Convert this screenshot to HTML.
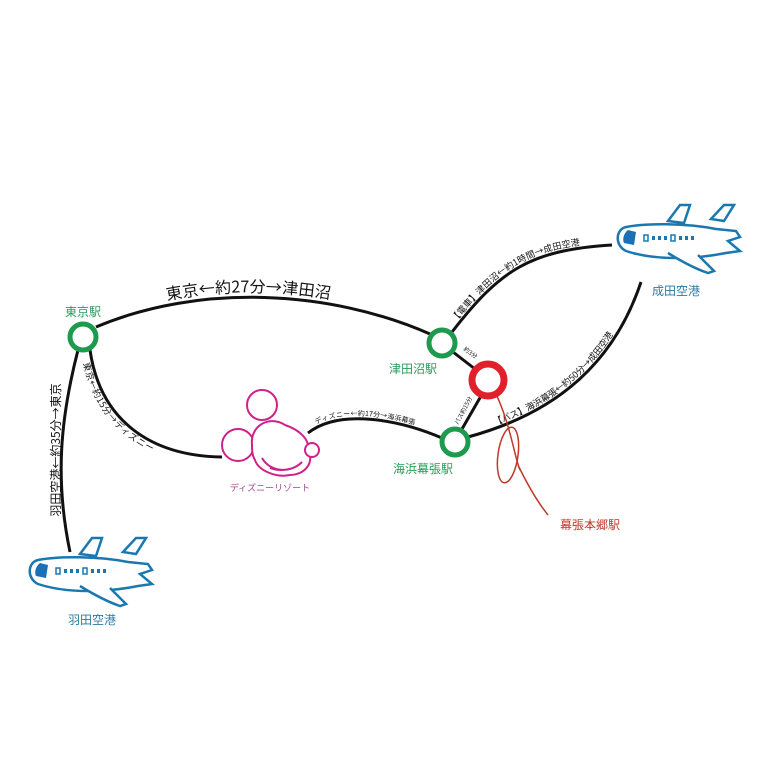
<!DOCTYPE html>
<html><head><meta charset="utf-8"><style>
html,body{margin:0;padding:0;background:#fff;}
svg{display:block;font-family:"Noto Sans CJK JP","Liberation Sans",sans-serif;}
</style></head><body>
<svg width="768" height="768" viewBox="0 0 768 768" xmlns="http://www.w3.org/2000/svg">
<defs>
<g id="plane">
 <path d="M95,-8 L108,-22 L118,-22 L108,-6 Z M52,-6 L64,-22 L74,-22 L68,-4 Z" fill="#fff" stroke="#1a78b0" stroke-width="2.5"/>
 <path d="M10,0 C0,2 -2,18 10,24 C40,34 80,32 110,26 L124,24 L112,14 L124,10 L120,4 L100,2 C70,-4 30,-4 10,0 Z" fill="#fff" stroke="#1a78b0" stroke-width="2.5"/>
 <path d="M12,3 C8,6 6,12 8,16 L18,18 L20,5 Z" fill="#1a6fb5"/>
 <path d="M52,26 C65,34 80,42 92,46 L98,44 L82,28" fill="#fff" stroke="#1a78b0" stroke-width="2.5"/>
 <rect x="28" y="8" width="4" height="6" fill="none" stroke="#1a78b0" stroke-width="1.5"/>
 <rect x="36" y="9" width="3" height="4" fill="#1a78b0"/><rect x="42" y="9" width="3" height="4" fill="#1a78b0"/><rect x="48" y="9" width="3" height="4" fill="#1a78b0"/>
 <rect x="55" y="8" width="4" height="6" fill="none" stroke="#1a78b0" stroke-width="1.5"/>
 <rect x="63" y="9" width="3" height="4" fill="#1a78b0"/><rect x="69" y="9" width="3" height="4" fill="#1a78b0"/><rect x="75" y="9" width="3" height="4" fill="#1a78b0"/>
</g>
</defs>
<g fill="none" stroke="#111" stroke-width="3">
 <path id="p1" d="M96,327 C200,283 330,290 430,334"/>
 <path d="M78,350 C60,420 55,480 70,552"/>
 <path id="p3" d="M90,350 C100,420 150,456 222,457"/>
 <path id="p4" d="M308,433 C340,408 400,420 442,438"/>
 <path id="p5" d="M452,332 C500,270 530,250 612,245"/>
 <path d="M453,352 L475,369"/>
 <path d="M481,396 L462,429"/>
 <path id="p8" d="M468,437 C560,412 615,360 641,282"/>
</g>
<g fill="#111">
 <text font-size="16" dy="-5"><textPath href="#p1" startOffset="22%">東京←約27分→津田沼</textPath></text>
 <text font-size="12" transform="translate(60,450) rotate(-90)" text-anchor="middle">羽田空港←約35分→東京</text>
 <text font-size="9" dy="9"><textPath href="#p3" startOffset="6%">東京←約15分→ディズニー</textPath></text>
 <text font-size="7" dy="-3"><textPath href="#p4" startOffset="8%">ディズニー←約17分→海浜幕張</textPath></text>
 <text font-size="9" dy="-3"><textPath href="#p5" startOffset="5%">【電車】津田沼←約1時間→成田空港</textPath></text>
 <text font-size="9" dy="-3"><textPath href="#p8" startOffset="12%">【バス】海浜幕張←約50分→成田空港</textPath></text>
 <text font-size="6" transform="translate(463,350) rotate(35)">約3分</text>
 <text font-size="6" transform="translate(458,425) rotate(-62)">バス約15分</text>
</g>
<g fill="#fff" stroke="#1e9a4e" stroke-width="5">
 <circle cx="83" cy="337" r="13"/><circle cx="442" cy="343" r="13"/><circle cx="455" cy="442" r="13"/>
</g>
<path d="M493,388 C510,420 515,460 520,470 M518,465 C530,490 540,505 548,515" fill="none" stroke="#c0392b" stroke-width="1.5"/>
<ellipse cx="508" cy="455" rx="10" ry="28" fill="none" stroke="#c0392b" stroke-width="1.5" transform="rotate(8 508 455)"/>
<circle cx="488" cy="380" r="16" fill="#fff" stroke="#e0202a" stroke-width="7"/>
<g font-size="12" fill="#2a9a5a" text-anchor="middle">
 <text x="83" y="316">東京駅</text><text x="413" y="373">津田沼駅</text><text x="423" y="473">海浜幕張駅</text>
</g>
<g font-size="12" fill="#2a7aa0" text-anchor="middle">
 <text x="676" y="295">成田空港</text><text x="92" y="624">羽田空港</text>
</g>
<text x="270" y="491" font-size="9" fill="#9a4a8a" text-anchor="middle">ディズニーリゾート</text>
<text x="590" y="529" font-size="12" fill="#c0392b" text-anchor="middle">幕張本郷駅</text>
<use href="#plane" transform="translate(616,227)"/>
<use href="#plane" transform="translate(28,560)"/>
<g fill="#fff" stroke="#d0208a" stroke-width="2">
 <circle cx="238" cy="445" r="16"/><circle cx="262" cy="405" r="15"/>
 <path d="M252,445 C250,425 270,415 285,425 C300,430 310,440 308,450 C315,462 305,475 290,475 C275,478 258,470 255,460 C252,455 252,450 252,445 Z"/>
 <circle cx="312" cy="450" r="7"/>
 <path d="M262,458 C270,472 290,474 302,462 C295,470 280,472 270,468" fill="#f7c"/>
</g>
</svg>
</body></html>
